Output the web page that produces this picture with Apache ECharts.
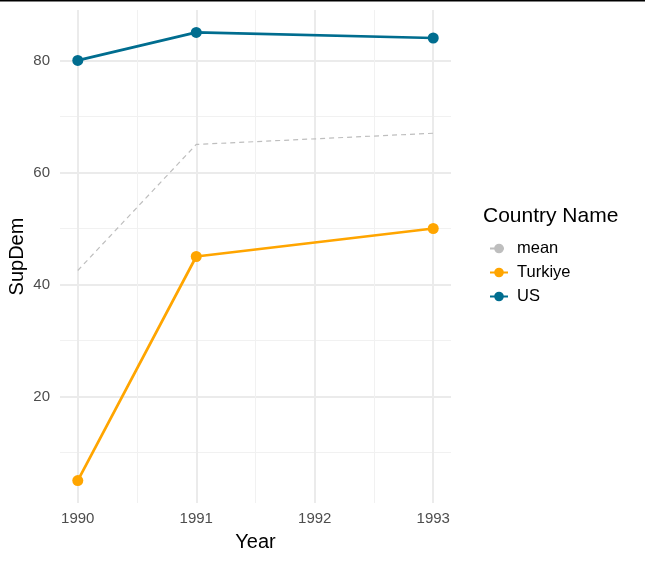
<!DOCTYPE html>
<html><head><meta charset="utf-8">
<script src="https://cdn.jsdelivr.net/npm/echarts@6/dist/echarts.min.js"></script>
<style>html,body{margin:0;padding:0;background:#fff}#c{width:645px;height:562px}</style>
</head><body><div id="c"></div>
<script>
var years = [1990, 1991, 1993];
var meanVals = [42.5, 65, 67];
var turkiyeVals = [5, 45, 50];
var usVals = [80, 85, 84];
var xTicks = [1990, 1991, 1992, 1993];
var xMinor = [1990.5, 1991.5, 1992.5];
var yTicks = [20, 40, 60, 80];
var yMinor = [10, 30, 50, 70];

function pairs(v){ return years.map(function(y,i){ return [y, v[i]]; }); }
var font = 'Liberation Sans, Arial, sans-serif';
var chart = echarts.init(document.getElementById('c'));
var xBase = {type:'value', min:1989.85, max:1993.15, axisLine:{show:false}};
var yBase = {type:'value', min:1, max:89, axisLine:{show:false}};
chart.setOption({
  animation:false,
  grid:{left:60, right:194, top:10, bottom:59, containLabel:false, outerBoundsMode:'none'},
  title:{text:'Country Name', left:478, top:201, textStyle:{fontFamily:font, fontSize:21, fontWeight:'normal', color:'#000'}},
  legend:{orient:'vertical', left:484, top:235, itemWidth:18, itemHeight:12, itemGap:7,
    textStyle:{fontFamily:font, fontSize:16.5, color:'#000', padding:[0,0,0,4]},
    data:['mean','Turkiye','US']},
  graphic:[{type:'rect', shape:{x:0,y:0,width:645,height:1.5}, style:{fill:'#000'}}],
  xAxis:[
    Object.assign({}, xBase, {
      axisTick:{show:false, customValues:xTicks},
      axisLabel:{customValues:xTicks, margin:8, fontFamily:font, fontSize:15, color:'#4D4D4D', formatter:function(v){return String(v);}},
      splitLine:{show:true, lineStyle:{color:'#EBEBEB', width:2}},
      name:'Year', nameLocation:'middle', nameGap:29, nameMoveOverlap:false,
      nameTextStyle:{fontFamily:font, fontSize:20, color:'#000'}
    }),
    Object.assign({}, xBase, {
      position:'bottom',
      axisTick:{show:false, customValues:xMinor},
      axisLabel:{show:false, customValues:xMinor},
      splitLine:{show:true, lineStyle:{color:'#F1F1F1', width:1}}
    })
  ],
  yAxis:[
    Object.assign({}, yBase, {
      axisTick:{show:false, customValues:yTicks},
      axisLabel:{customValues:yTicks, margin:10, fontFamily:font, fontSize:15, color:'#4D4D4D'},
      splitLine:{show:true, lineStyle:{color:'#EBEBEB', width:2}},
      name:'SupDem', nameLocation:'middle', nameGap:33, nameMoveOverlap:false,
      nameTextStyle:{fontFamily:font, fontSize:20, color:'#000'}
    }),
    Object.assign({}, yBase, {
      position:'left',
      axisTick:{show:false, customValues:yMinor},
      axisLabel:{show:false, customValues:yMinor},
      splitLine:{show:true, lineStyle:{color:'#F1F1F1', width:1}}
    })
  ],
  series:[
    {name:'mean', type:'line', data:pairs(meanVals), symbol:'circle', symbolSize:11, showSymbol:false,
     itemStyle:{color:'#BEBEBE'}, lineStyle:{color:'#BEBEBE', width:1.2, type:[5,4]}, z:2},
    {name:'Turkiye', type:'line', data:pairs(turkiyeVals), symbol:'circle', symbolSize:11,
     itemStyle:{color:'#FFA500'}, lineStyle:{color:'#FFA500', width:2.7}, z:3},
    {name:'US', type:'line', data:pairs(usVals), symbol:'circle', symbolSize:11,
     itemStyle:{color:'#006D8F'}, lineStyle:{color:'#006D8F', width:2.7}, z:3}
  ]
});
</script></body></html>
